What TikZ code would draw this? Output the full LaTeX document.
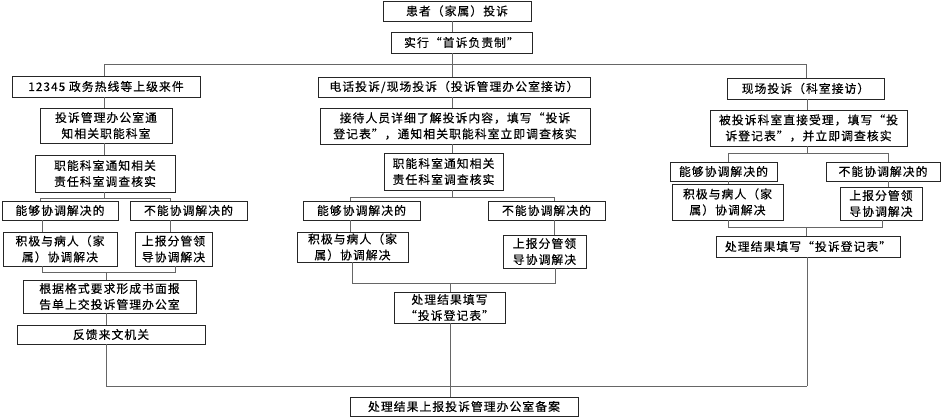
\documentclass[tikz,border=0pt]{standalone}
\usepackage{fontspec}
\setmainfont{Noto Sans CJK SC}[LetterSpace=9,FakeBold=0.4]
\begin{document}
\begin{tikzpicture}[x=1pt,y=1pt,
  box/.style={draw=black!85,line width=0.8pt,inner sep=0pt,align=center,
    font=\fontsize{11.8}{16}\selectfont,text=black},
  conn/.style={draw=black!60,line width=0.9pt}]
\useasboundingbox (0,0) rectangle (943,-417);
% top
\node[box,minimum width=148,minimum height=20] (t1) at (457,-11) {患者（家属）投诉};
\node[box,minimum width=141,minimum height=21] (t2) at (461.5,-42.5) {实行“首诉负责制”};
% first level
\node[box,minimum width=188,minimum height=21] (L1) at (106,-86.5) {12345 政务热线等上级来件};
\node[box,minimum width=272,minimum height=20] (M1) at (454,-87) {电话投诉/现场投诉（投诉管理办公室接访）};
\node[box,minimum width=157,minimum height=21] (R1) at (805.5,-88.5) {现场投诉（科室接访）};
% left column
\node[box,minimum width=132,minimum height=35] (L2) at (106,-125.5) {投诉管理办公室通\\知相关职能科室};
\node[box,minimum width=140,minimum height=37] (L3) at (105,-173.5) {职能科室通知相关\\责任科室调查核实};
\node[box,minimum width=116,minimum height=19] (L4a) at (60,-210.5) {能够协调解决的};
\node[box,minimum width=117,minimum height=19] (L4b) at (188.5,-210.5) {不能协调解决的};
\node[box,minimum width=114,minimum height=34] (L5a) at (60,-249) {积极与病人（家\\属）协调解决};
\node[box,minimum width=77,minimum height=34] (L5b) at (173.5,-249) {上报分管领\\导协调解决};
\node[box,minimum width=173,minimum height=33] (L6) at (109.5,-296.5) {根据格式要求形成书面报\\告单上交投诉管理办公室};
\node[box,minimum width=188,minimum height=19] (L7) at (111,-334.5) {反馈来文机关};
% middle column
\node[box,minimum width=270,minimum height=36] (M2) at (455,-126) {接待人员详细了解投诉内容，填写“投诉\\登记表”，通知相关职能科室立即调查核实};
\node[box,minimum width=119,minimum height=37] (M3) at (443.5,-171.5) {职能科室通知相关\\责任科室调查核实};
\node[box,minimum width=117,minimum height=19] (M4a) at (361.5,-210.5) {能够协调解决的};
\node[box,minimum width=117,minimum height=19] (M4b) at (546.5,-210.5) {不能协调解决的};
\node[box,minimum width=111,minimum height=30] (M5a) at (352.5,-247) {积极与病人（家\\属）协调解决};
\node[box,minimum width=83,minimum height=33] (M5b) at (544.5,-251.5) {上报分管领\\导协调解决};
\node[box,minimum width=111,minimum height=31] (M6) at (449.5,-307.5) {处理结果填写\\“投诉登记表”};
% right column
\node[box,minimum width=197,minimum height=36] (R2) at (808.5,-128) {被投诉科室直接受理，填写“投\\诉登记表”，并立即调查核实};
\node[box,minimum width=107,minimum height=19] (R4a) at (723.5,-171.5) {能够协调解决的};
\node[box,minimum width=114,minimum height=19] (R4b) at (883,-171.5) {不能协调解决的};
\node[box,minimum width=111,minimum height=36] (R5a) at (727.5,-202) {积极与病人（家\\属）协调解决};
\node[box,minimum width=82,minimum height=33] (R5b) at (881,-203.5) {上报分管领\\导协调解决};
\node[box,minimum width=184,minimum height=21] (R6) at (808,-246.5) {处理结果填写“投诉登记表”};
% bottom
\node[box,minimum width=228,minimum height=19] (B) at (464,-406.5) {处理结果上报投诉管理办公室备案};
% junction coordinates
\coordinate (vt) at (452,-64);
\coordinate (hL) at (104,-64);
\coordinate (hR) at (806,-64);
\coordinate (la) at (40,-198);
\coordinate (lb) at (170,-198);
\coordinate (lc) at (104,-198);
\coordinate (ld) at (42,-272);
\coordinate (le) at (175,-272);
\coordinate (lf) at (106,-272);
\coordinate (ma) at (350,-197);
\coordinate (mb) at (554,-197);
\coordinate (mc) at (452,-197);
\coordinate (md) at (352,-283);
\coordinate (me) at (555,-283);
\coordinate (mf) at (450,-283);
\coordinate (ra) at (728,-153);
\coordinate (rb) at (888,-153);
\coordinate (rc) at (807,-153);
\coordinate (rd) at (728,-227);
\coordinate (re) at (882,-227);
\coordinate (rf) at (806,-227);
\coordinate (bl) at (106,-386);
\coordinate (bm) at (450,-386);
\coordinate (br) at (807,-386);
% top connectors
\draw[conn] (t1.south -| vt) -- (t2.north -| vt);
\draw[conn] (t2.south -| vt) -- (vt);
\draw[conn] (L1.north -| hL) -- (hL) -- (hR) -- (R1.north -| hR);
\draw[conn] (vt) -- (M1.north -| vt);
% left
\draw[conn] (L1.south -| hL) -- (L2.north -| hL);
\draw[conn] (L2.south -| hL) -- (L3.north -| hL);
\draw[conn] (L3.south -| lc) -- (lc);
\draw[conn] (L4a.north -| la) -- (la) -- (lb) -- (L4b.north -| lb);
\draw[conn] (L4a.south -| ld) -- (L5a.north -| ld);
\draw[conn] (L4b.south -| lb) -- (L5b.north -| lb);
\draw[conn] (L5a.south -| ld) -- (ld) -- (le) -- (L5b.south -| le);
\draw[conn] (lf) -- (L6.north -| lf);
\draw[conn] (L6.south -| lf) -- (L7.north -| lf);
\draw[conn] (L7.south -| bl) -- (bl) -- (br);
% middle
\draw[conn] (M1.south -| mc) -- (M2.north -| mc);
\draw[conn] (M2.south -| mc) -- (M3.north -| mc);
\draw[conn] (M3.south -| mc) -- (mc);
\draw[conn] (M4a.north -| ma) -- (ma) -- (mb) -- (M4b.north -| mb);
\draw[conn] (M4a.south -| ma) -- (M5a.north -| ma);
\draw[conn] (M4b.south -| mb) -- (M5b.north -| mb);
\draw[conn] (M5a.south -| md) -- (md) -- (me) -- (M5b.south -| me);
\draw[conn] (mf) -- (M6.north -| mf);
\draw[conn] (M6.south -| bm) -- (B.north -| bm);
% right
\draw[conn] (R1.south -| rc) -- (R2.north -| rc);
\draw[conn] (R2.south -| rc) -- (rc);
\draw[conn] (R4a.north -| ra) -- (ra) -- (rb) -- (R4b.north -| rb);
\draw[conn] (R4a.south -| ra) -- (R5a.north -| ra);
\draw[conn] (R4b.south -| rb) -- (R5b.north -| rb);
\draw[conn] (R5a.south -| rd) -- (rd) -- (re) -- (R5b.south -| re);
\draw[conn] (rf) -- (R6.north -| rf);
\draw[conn] (R6.south -| br) -- (br);
\end{tikzpicture}
\end{document}
